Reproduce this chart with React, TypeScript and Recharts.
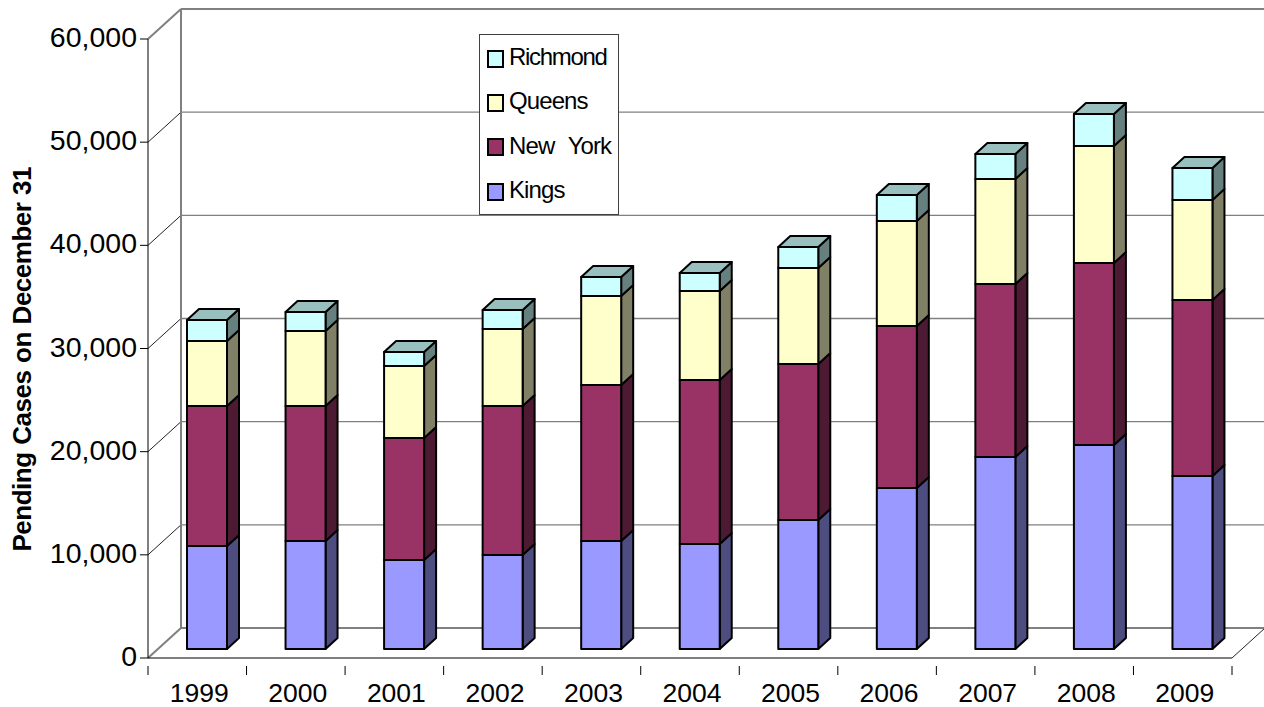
import { BarChart, Bar, XAxis, YAxis, CartesianGrid, Legend } from "recharts";

const years = ["1999", "2000", "2001", "2002", "2003", "2004", "2005", "2006", "2007", "2008", "2009"];
const kings = [9980, 10470, 8630, 9110, 10470, 10180, 12500, 15600, 18610, 19770, 16770];
const newYork = [13570, 13080, 11820, 14440, 15120, 15890, 15120, 15700, 16770, 17640, 17060];
const queens = [6300, 7270, 6980, 7460, 8630, 8630, 9300, 10180, 10180, 11340, 9690];
const richmond = [2040, 1840, 1360, 1840, 1840, 1740, 2040, 2520, 2420, 3100, 3100];
const yTicks = [0, 10000, 20000, 30000, 40000, 50000, 60000];

const data = years.map((year, i) => ({
  year,
  Kings: kings[i],
  "New York": newYork[i],
  Queens: queens[i],
  Richmond: richmond[i],
}));

const W = 1264;
const H = 707;
const MARGIN = { top: 39, right: 32, bottom: 0, left: 0 };
const Y_AXIS_W = 148;
const X_AXIS_H = 49;
const BAND = (W - Y_AXIS_W - MARGIN.right) / years.length;
const FLOOR_Y = H - X_AXIS_H;

// depth of the fake 3D box and of each column
const WALL_DX = 33;
const WALL_DY = 30;
const BAR_SHIFT_X = 10;
const BAR_SHIFT_Y = 9;
const BAR_DX = 12;
const BAR_DY = 11;
const FONT = "'Liberation Sans', Arial, sans-serif";

function Column({ x, y, width, height, fill, side, top }: any) {
  const l = x + BAR_SHIFT_X;
  const r = l + width;
  const t = y - BAR_SHIFT_Y;
  const b = t + height;
  const edge = { stroke: "#000", strokeWidth: 2, strokeLinejoin: "round" as const };
  return (
    <g>
      <polygon points={`${r},${b} ${r + BAR_DX},${b - BAR_DY} ${r + BAR_DX},${t - BAR_DY} ${r},${t}`} fill={side} {...edge} />
      {top && <polygon points={`${l},${t} ${l + BAR_DX},${t - BAR_DY} ${r + BAR_DX},${t - BAR_DY} ${r},${t}`} fill={top} {...edge} />}
      <rect x={l} y={t} width={width} height={height} fill={fill} {...edge} />
    </g>
  );
}

function WallLine({ x1, x2, y1, index }: any) {
  const isFloor = Math.abs(y1 - FLOOR_Y) < 1;
  const isTop = Math.abs(y1 - MARGIN.top) < 1;
  const heavy = isFloor || isTop;
  const step = (FLOOR_Y - MARGIN.top) / (yTicks.length - 1);
  return (
    <g key={index}>
      <line x1={x1 + WALL_DX} x2={x2 + WALL_DX} y1={y1 - WALL_DY} y2={y1 - WALL_DY} stroke="#808080" strokeWidth={heavy ? 2 : 1.3} />
      <line x1={x1} x2={x1 + WALL_DX} y1={y1} y2={y1 - WALL_DY} stroke={heavy ? "#808080" : "#222"} strokeWidth={heavy ? 2 : 1} />
      {!isFloor && <line x1={x1 + WALL_DX} x2={x1 + WALL_DX} y1={y1 - WALL_DY} y2={y1 - WALL_DY + step} stroke="#808080" strokeWidth={2} />}
      {isFloor && <line x1={x2} x2={x2 + WALL_DX} y1={y1} y2={y1 - WALL_DY} stroke="#222" strokeWidth={1} />}
    </g>
  );
}

function YearTick({ x, y, payload, index }: any) {
  const left = x - BAND / 2;
  return (
    <g>
      <line x1={left} x2={left} y1={y} y2={y + 9} stroke="#000" />
      {index === years.length - 1 && <line x1={left + BAND} x2={left + BAND} y1={y} y2={y + 9} stroke="#000" />}
      <text x={x + 2} y={y + 36} textAnchor="middle" fontSize={26.5} fontFamily={FONT} fill="#000">
        {payload.value}
      </text>
    </g>
  );
}

const legendColors: Record<string, string> = {
  Richmond: "#CCFFFF",
  Queens: "#FFFFCC",
  "New York": "#993366",
  Kings: "#9999FF",
};
const legendOrder = ["Richmond", "Queens", "New York", "Kings"];

function LegendBox() {
  return (
    <div style={{ width: 138, height: 179, border: "1px solid #404040", background: "#fff", boxSizing: "content-box" }}>
      {legendOrder.map((name) => (
        <div
          key={name}
          style={{
            display: "flex",
            alignItems: "center",
            height: 44.3,
            paddingLeft: 7,
            fontFamily: FONT,
            fontSize: 24,
            letterSpacing: name === "Richmond" ? -1.3 : -0.9,
            wordSpacing: 8,
            whiteSpace: "pre",
            color: "#000",
          }}
        >
          <span style={{ width: 13, height: 14, border: "2px solid #000", background: legendColors[name], marginRight: 5, marginTop: 3, flexShrink: 0 }} />
          {name}
        </div>
      ))}
    </div>
  );
}

export default function App() {
  return (
    <div style={{ position: "absolute", left: 0, top: 0, width: W, height: H, background: "#fff" }}>
      <BarChart width={W} height={H} data={data} margin={MARGIN} barSize={40}>
        <CartesianGrid vertical={false} horizontal={(p: any) => <WallLine {...p} />} />
        <XAxis
          dataKey="year"
          height={X_AXIS_H}
          interval={0}
          tickLine={false}
          axisLine={{ stroke: "#000", strokeWidth: 1 }}
          tick={(p: any) => <YearTick {...p} />}
        />
        <YAxis
          width={Y_AXIS_W}
          domain={[0, 60000]}
          ticks={yTicks}
          interval={0}
          tickSize={8}
          tickMargin={3}
          tickFormatter={(v: number) => v.toLocaleString("en-US")}
          tick={{ fontSize: 28.5, fontFamily: FONT, fill: "#000", dy: -2 }}
          axisLine={{ stroke: "#000", strokeWidth: 1 }}
          tickLine={{ stroke: "#000" }}
          label={{
            value: "Pending Cases on December 31",
            angle: -90,
            position: "insideLeft",
            dx: 17,
            dy: 203,
            style: { fontSize: 26, fontWeight: "bold", fontFamily: FONT, fill: "#000", letterSpacing: -0.5, wordSpacing: 1 },
          }}
        />
        <Legend
          layout="horizontal"
          verticalAlign="middle"
          align="center"
          wrapperStyle={{ left: 479, top: 34, width: 140, height: 181 }}
          content={() => <LegendBox />}
        />
        <Bar dataKey="Kings" stackId="a" isAnimationActive={false} shape={(p: any) => <Column {...p} fill="#9999FF" side="#4D4D80" />} />
        <Bar dataKey="New York" stackId="a" isAnimationActive={false} shape={(p: any) => <Column {...p} fill="#993366" side="#4D1A33" />} />
        <Bar dataKey="Queens" stackId="a" isAnimationActive={false} shape={(p: any) => <Column {...p} fill="#FFFFCC" side="#808066" />} />
        <Bar dataKey="Richmond" stackId="a" isAnimationActive={false} shape={(p: any) => <Column {...p} fill="#CCFFFF" side="#668080" top="#99BFBF" />} />
      </BarChart>
    </div>
  );
}
